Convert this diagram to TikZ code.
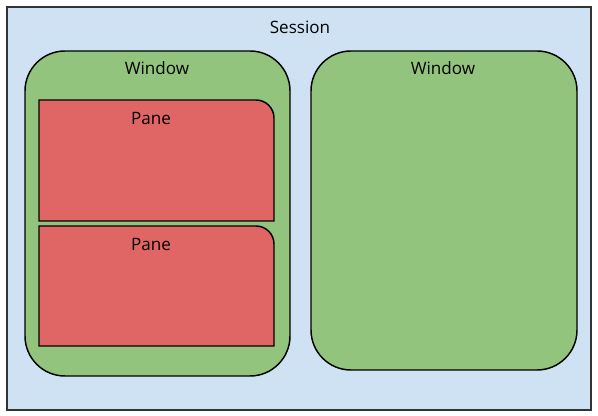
\documentclass[tikz,border=0pt]{standalone}
\usepackage{fontspec}
\setmainfont{Open Sans}
\definecolor{sessionblue}{HTML}{CFE2F3}
\definecolor{windowgreen}{HTML}{93C47D}
\definecolor{panered}{HTML}{E06666}
\begin{document}
\begin{tikzpicture}[x=0.75pt,y=-0.75pt,
		box/.style={draw=black,line width=1.1pt},
		lbl/.style={font=\fontsize{12.8}{15}\selectfont,inner sep=0pt,anchor=center}]
		\useasboundingbox (0,0) rectangle (598,416);
		
		% session
		\draw[fill=sessionblue,draw=black!80,line width=1pt] (7,7) rectangle (591,410);
		\node[lbl] (session) at (300,27) {Session};
		
		% windows
		\draw[box,fill=windowgreen,rounded corners=30pt] (25,51) rectangle (290,376);
		\draw[box,fill=windowgreen,rounded corners=30pt] (311,51) rectangle (577,370);
		\node[lbl] (winA) at (157,68) {Window};
		\node[lbl] (winB) at (443,68) {Window};
		
		% panes, only the top right corner is rounded
		\foreach \t/\b/\n in {100/221/paneA, 226/346/paneB}{
			\draw[box,fill=panered] (39,\b) -- (39,\t) -- (256,\t) arc (-90:0:18) -- (274,\b) -- cycle;
			\node[lbl] (\n) at (151,{\t+18}) {Pane};
		}
\end{tikzpicture}
\end{document}
